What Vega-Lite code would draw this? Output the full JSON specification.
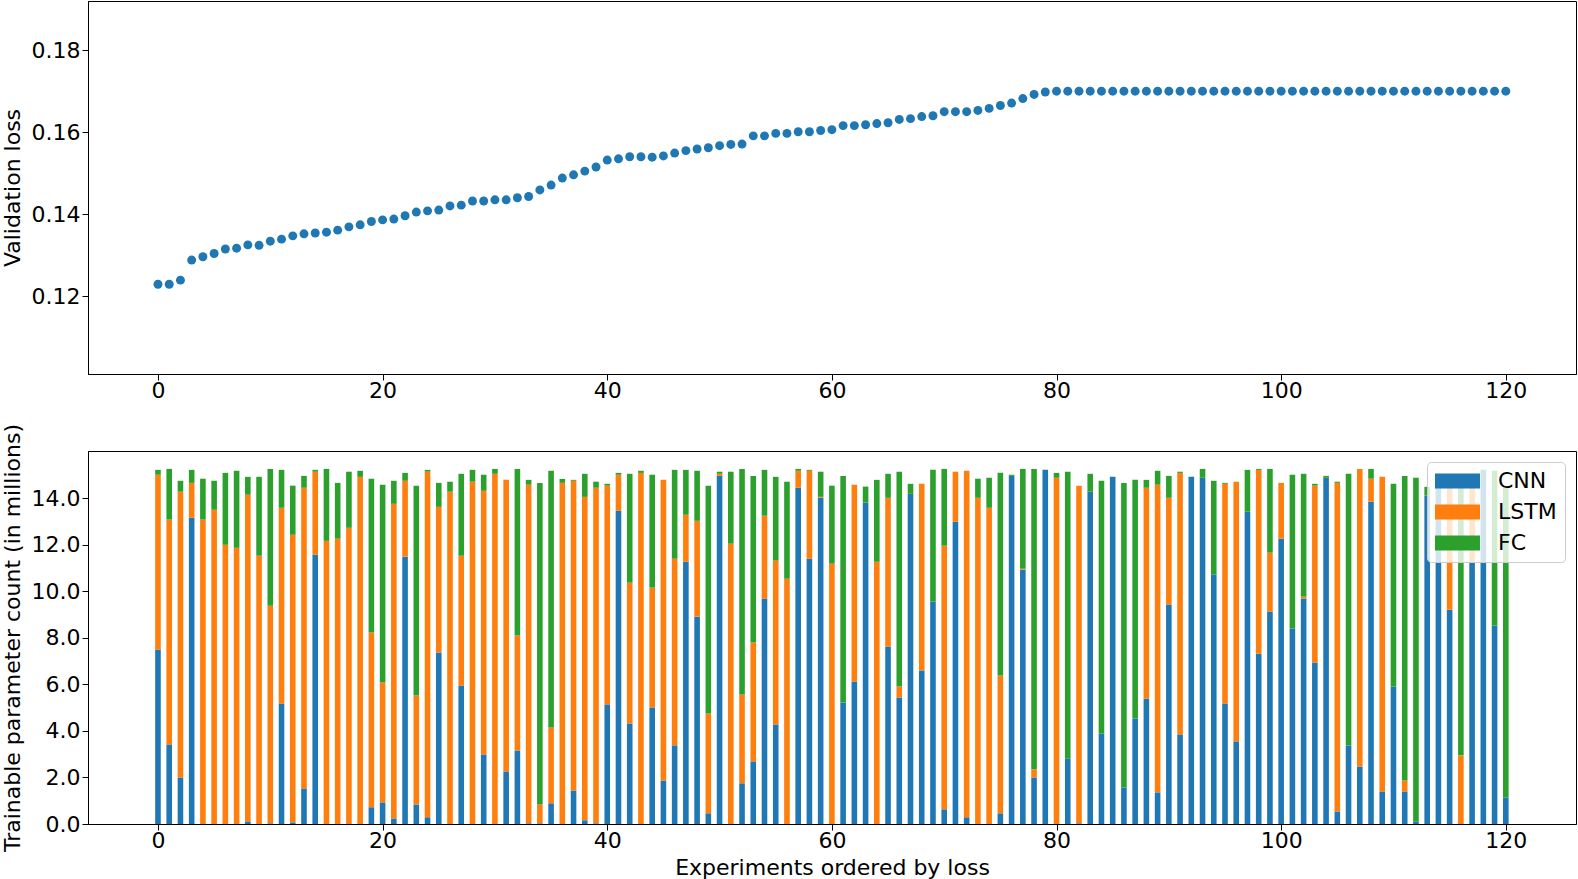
{
  "$schema": "https://vega.github.io/schema/vega-lite/v6.json",
  "description": "Validation loss per experiment (top) and trainable parameter count by layer type (bottom), experiments ordered by loss",
  "padding": {"left": 0, "top": 0, "right": 0, "bottom": 0},
  "background": "white",
  "datasets": {
    "exp": [
      {"i": 0, "loss": 0.1229, "CNN": 7.50, "LSTM": 7.51, "FC": 0.21},
      {"i": 1, "loss": 0.1229, "CNN": 3.42, "LSTM": 9.66, "FC": 2.18},
      {"i": 2, "loss": 0.1239, "CNN": 2.00, "LSTM": 12.28, "FC": 0.47},
      {"i": 3, "loss": 0.1288, "CNN": 13.16, "LSTM": 1.50, "FC": 0.56},
      {"i": 4, "loss": 0.1296, "CNN": 0, "LSTM": 13.08, "FC": 1.76},
      {"i": 5, "loss": 0.1304, "CNN": 0, "LSTM": 13.51, "FC": 1.24},
      {"i": 6, "loss": 0.1315, "CNN": 0, "LSTM": 12.00, "FC": 3.09},
      {"i": 7, "loss": 0.1317, "CNN": 0, "LSTM": 11.87, "FC": 3.31},
      {"i": 8, "loss": 0.1325, "CNN": 0.11, "LSTM": 14.04, "FC": 0.77},
      {"i": 9, "loss": 0.1324, "CNN": 0, "LSTM": 11.53, "FC": 3.39},
      {"i": 10, "loss": 0.1334, "CNN": 0.03, "LSTM": 9.35, "FC": 5.88},
      {"i": 11, "loss": 0.1339, "CNN": 5.18, "LSTM": 8.41, "FC": 1.63},
      {"i": 12, "loss": 0.1347, "CNN": 0.07, "LSTM": 12.36, "FC": 2.11},
      {"i": 13, "loss": 0.1352, "CNN": 1.53, "LSTM": 12.92, "FC": 0.51},
      {"i": 14, "loss": 0.1354, "CNN": 11.57, "LSTM": 3.57, "FC": 0.08},
      {"i": 15, "loss": 0.1356, "CNN": 0, "LSTM": 12.17, "FC": 3.09},
      {"i": 16, "loss": 0.1361, "CNN": 0, "LSTM": 12.26, "FC": 2.40},
      {"i": 17, "loss": 0.1369, "CNN": 0, "LSTM": 12.73, "FC": 2.41},
      {"i": 18, "loss": 0.1374, "CNN": 0, "LSTM": 14.92, "FC": 0.26},
      {"i": 19, "loss": 0.1382, "CNN": 0.72, "LSTM": 7.51, "FC": 6.61},
      {"i": 20, "loss": 0.1386, "CNN": 0.93, "LSTM": 5.15, "FC": 8.50},
      {"i": 21, "loss": 0.1388, "CNN": 0.24, "LSTM": 13.52, "FC": 0.99},
      {"i": 22, "loss": 0.1396, "CNN": 11.49, "LSTM": 3.26, "FC": 0.34},
      {"i": 23, "loss": 0.1405, "CNN": 0.84, "LSTM": 4.68, "FC": 9.02},
      {"i": 24, "loss": 0.1408, "CNN": 0.29, "LSTM": 14.85, "FC": 0.08},
      {"i": 25, "loss": 0.1410, "CNN": 7.37, "LSTM": 6.26, "FC": 1.03},
      {"i": 26, "loss": 0.1420, "CNN": 0, "LSTM": 14.28, "FC": 0.43},
      {"i": 27, "loss": 0.1422, "CNN": 5.95, "LSTM": 5.58, "FC": 3.52},
      {"i": 28, "loss": 0.1432, "CNN": 0, "LSTM": 14.71, "FC": 0.51},
      {"i": 29, "loss": 0.1432, "CNN": 2.99, "LSTM": 11.33, "FC": 0.69},
      {"i": 30, "loss": 0.1435, "CNN": 0, "LSTM": 15.05, "FC": 0.21},
      {"i": 31, "loss": 0.1435, "CNN": 2.26, "LSTM": 12.53, "FC": 0},
      {"i": 32, "loss": 0.1440, "CNN": 3.16, "LSTM": 4.94, "FC": 7.16},
      {"i": 33, "loss": 0.1443, "CNN": 0.03, "LSTM": 14.55, "FC": 0.21},
      {"i": 34, "loss": 0.1459, "CNN": 0.03, "LSTM": 0.81, "FC": 13.82},
      {"i": 35, "loss": 0.1471, "CNN": 0.89, "LSTM": 3.26, "FC": 11.03},
      {"i": 36, "loss": 0.1488, "CNN": 0, "LSTM": 14.66, "FC": 0.17},
      {"i": 37, "loss": 0.1496, "CNN": 1.44, "LSTM": 13.31, "FC": 0.04},
      {"i": 38, "loss": 0.1505, "CNN": 0.16, "LSTM": 13.90, "FC": 0.99},
      {"i": 39, "loss": 0.1515, "CNN": 0.03, "LSTM": 14.42, "FC": 0.26},
      {"i": 40, "loss": 0.1532, "CNN": 5.14, "LSTM": 9.40, "FC": 0.08},
      {"i": 41, "loss": 0.1535, "CNN": 13.46, "LSTM": 1.55, "FC": 0.08},
      {"i": 42, "loss": 0.1540, "CNN": 4.32, "LSTM": 6.05, "FC": 4.68},
      {"i": 43, "loss": 0.1540, "CNN": 0, "LSTM": 15.09, "FC": 0.09},
      {"i": 44, "loss": 0.1539, "CNN": 5.01, "LSTM": 5.15, "FC": 4.85},
      {"i": 45, "loss": 0.1542, "CNN": 1.87, "LSTM": 12.92, "FC": 0},
      {"i": 46, "loss": 0.1549, "CNN": 3.38, "LSTM": 8.02, "FC": 3.82},
      {"i": 47, "loss": 0.1555, "CNN": 11.27, "LSTM": 2.02, "FC": 1.93},
      {"i": 48, "loss": 0.1559, "CNN": 8.91, "LSTM": 4.12, "FC": 2.15},
      {"i": 49, "loss": 0.1562, "CNN": 0.46, "LSTM": 4.29, "FC": 9.79},
      {"i": 50, "loss": 0.1567, "CNN": 14.96, "LSTM": 0.09, "FC": 0.09},
      {"i": 51, "loss": 0.1570, "CNN": 0, "LSTM": 12.05, "FC": 3.09},
      {"i": 52, "loss": 0.1571, "CNN": 1.75, "LSTM": 3.82, "FC": 9.69},
      {"i": 53, "loss": 0.1591, "CNN": 2.69, "LSTM": 5.11, "FC": 7.16},
      {"i": 54, "loss": 0.1591, "CNN": 9.69, "LSTM": 3.56, "FC": 1.97},
      {"i": 55, "loss": 0.1597, "CNN": 4.28, "LSTM": 7.04, "FC": 3.60},
      {"i": 56, "loss": 0.1597, "CNN": 0, "LSTM": 10.54, "FC": 4.17},
      {"i": 57, "loss": 0.1601, "CNN": 14.45, "LSTM": 0.73, "FC": 0.08},
      {"i": 58, "loss": 0.1601, "CNN": 11.40, "LSTM": 3.78, "FC": 0.04},
      {"i": 59, "loss": 0.1604, "CNN": 14.02, "LSTM": 0.04, "FC": 1.08},
      {"i": 60, "loss": 0.1606, "CNN": 0, "LSTM": 11.19, "FC": 3.35},
      {"i": 61, "loss": 0.1616, "CNN": 5.22, "LSTM": 0, "FC": 9.74},
      {"i": 62, "loss": 0.1616, "CNN": 6.12, "LSTM": 8.46, "FC": 0},
      {"i": 63, "loss": 0.1618, "CNN": 13.81, "LSTM": 0, "FC": 0.69},
      {"i": 64, "loss": 0.1621, "CNN": 0, "LSTM": 11.27, "FC": 3.52},
      {"i": 65, "loss": 0.1623, "CNN": 7.63, "LSTM": 6.39, "FC": 1.03},
      {"i": 66, "loss": 0.1631, "CNN": 5.44, "LSTM": 0.47, "FC": 9.23},
      {"i": 67, "loss": 0.1633, "CNN": 14.19, "LSTM": 0, "FC": 0.43},
      {"i": 68, "loss": 0.1638, "CNN": 6.60, "LSTM": 8.02, "FC": 0},
      {"i": 69, "loss": 0.1640, "CNN": 9.56, "LSTM": 0, "FC": 5.66},
      {"i": 70, "loss": 0.1650, "CNN": 0.63, "LSTM": 11.33, "FC": 3.30},
      {"i": 71, "loss": 0.1650, "CNN": 12.99, "LSTM": 2.15, "FC": 0},
      {"i": 72, "loss": 0.1650, "CNN": 0.29, "LSTM": 14.89, "FC": 0},
      {"i": 73, "loss": 0.1653, "CNN": 0, "LSTM": 14.02, "FC": 0.82},
      {"i": 74, "loss": 0.1658, "CNN": 0, "LSTM": 13.59, "FC": 1.29},
      {"i": 75, "loss": 0.1665, "CNN": 0.46, "LSTM": 5.92, "FC": 8.71},
      {"i": 76, "loss": 0.1671, "CNN": 14.96, "LSTM": 0, "FC": 0.05},
      {"i": 77, "loss": 0.1682, "CNN": 10.93, "LSTM": 0.04, "FC": 4.29},
      {"i": 78, "loss": 0.1692, "CNN": 2.00, "LSTM": 0.35, "FC": 12.91},
      {"i": 79, "loss": 0.1698, "CNN": 15.22, "LSTM": 0, "FC": 0},
      {"i": 80, "loss": 0.1700, "CNN": 0, "LSTM": 14.88, "FC": 0.21},
      {"i": 81, "loss": 0.1700, "CNN": 2.82, "LSTM": 0, "FC": 12.32},
      {"i": 82, "loss": 0.1700, "CNN": 0.03, "LSTM": 14.51, "FC": 0},
      {"i": 83, "loss": 0.1700, "CNN": 14.28, "LSTM": 0, "FC": 0.77},
      {"i": 84, "loss": 0.1700, "CNN": 3.89, "LSTM": 0, "FC": 10.86},
      {"i": 85, "loss": 0.1700, "CNN": 14.92, "LSTM": 0, "FC": 0},
      {"i": 86, "loss": 0.1700, "CNN": 1.57, "LSTM": 0, "FC": 13.09},
      {"i": 87, "loss": 0.1700, "CNN": 4.54, "LSTM": 0, "FC": 10.25},
      {"i": 88, "loss": 0.1700, "CNN": 5.39, "LSTM": 9.06, "FC": 0.34},
      {"i": 89, "loss": 0.1700, "CNN": 1.36, "LSTM": 13.22, "FC": 0.60},
      {"i": 90, "loss": 0.1700, "CNN": 9.43, "LSTM": 4.59, "FC": 0.94},
      {"i": 91, "loss": 0.1700, "CNN": 3.85, "LSTM": 11.24, "FC": 0.05},
      {"i": 92, "loss": 0.1700, "CNN": 14.92, "LSTM": 0, "FC": 0},
      {"i": 93, "loss": 0.1700, "CNN": 14.88, "LSTM": 0, "FC": 0.38},
      {"i": 94, "loss": 0.1700, "CNN": 10.72, "LSTM": 0, "FC": 4.03},
      {"i": 95, "loss": 0.1700, "CNN": 5.18, "LSTM": 9.44, "FC": 0.04},
      {"i": 96, "loss": 0.1700, "CNN": 3.55, "LSTM": 11.16, "FC": 0},
      {"i": 97, "loss": 0.1700, "CNN": 13.42, "LSTM": 0, "FC": 1.80},
      {"i": 98, "loss": 0.1700, "CNN": 7.32, "LSTM": 7.90, "FC": 0.04},
      {"i": 99, "loss": 0.1700, "CNN": 9.13, "LSTM": 2.53, "FC": 3.60},
      {"i": 100, "loss": 0.1700, "CNN": 12.26, "LSTM": 2.40, "FC": 0},
      {"i": 101, "loss": 0.1700, "CNN": 8.40, "LSTM": 0, "FC": 6.61},
      {"i": 102, "loss": 0.1700, "CNN": 9.69, "LSTM": 0.08, "FC": 5.28},
      {"i": 103, "loss": 0.1700, "CNN": 6.94, "LSTM": 7.60, "FC": 0.08},
      {"i": 104, "loss": 0.1700, "CNN": 14.88, "LSTM": 0, "FC": 0.08},
      {"i": 105, "loss": 0.1700, "CNN": 0.54, "LSTM": 14.12, "FC": 0.05},
      {"i": 106, "loss": 0.1700, "CNN": 3.38, "LSTM": 0, "FC": 11.67},
      {"i": 107, "loss": 0.1700, "CNN": 2.47, "LSTM": 12.79, "FC": 0},
      {"i": 108, "loss": 0.1700, "CNN": 13.85, "LSTM": 0.99, "FC": 0.42},
      {"i": 109, "loss": 0.1700, "CNN": 1.40, "LSTM": 13.52, "FC": 0},
      {"i": 110, "loss": 0.1700, "CNN": 5.91, "LSTM": 0, "FC": 8.71},
      {"i": 111, "loss": 0.1700, "CNN": 1.40, "LSTM": 0.47, "FC": 13.09},
      {"i": 112, "loss": 0.1700, "CNN": 0.11, "LSTM": 0, "FC": 14.77},
      {"i": 113, "loss": 0.1700, "CNN": 14.11, "LSTM": 0, "FC": 0.38},
      {"i": 114, "loss": 0.1700, "CNN": 14.49, "LSTM": 0, "FC": 0},
      {"i": 115, "loss": 0.1700, "CNN": 9.21, "LSTM": 5.28, "FC": 0},
      {"i": 116, "loss": 0.1700, "CNN": 0, "LSTM": 2.95, "FC": 11.54},
      {"i": 117, "loss": 0.1700, "CNN": 11.28, "LSTM": 3.21, "FC": 0},
      {"i": 118, "loss": 0.1700, "CNN": 15.22, "LSTM": 0, "FC": 0},
      {"i": 119, "loss": 0.1700, "CNN": 8.53, "LSTM": 0, "FC": 6.65},
      {"i": 120, "loss": 0.1700, "CNN": 1.14, "LSTM": 0, "FC": 13.35}
    ]
  },
  "vconcat": [
    {
      "width": 1488,
      "height": 373,
      "layer": [
        {
          "data": {"name": "exp"},
          "mark": {"type": "point", "filled": true, "opacity": 1, "size": 80, "color": "#1f77b4"},
          "encoding": {
            "x": {
              "field": "i",
              "type": "quantitative",
              "scale": {"domain": [-6.23, 126.25], "nice": false, "zero": false, "padding": 0},
              "axis": {"title": null, "values": [0, 20, 40, 60, 80, 100, 120], "labelPadding": 0}
            },
            "y": {
              "field": "loss",
              "type": "quantitative",
              "scale": {"domain": [0.101, 0.192], "nice": false, "zero": false},
              "axis": {"title": "Validation loss", "values": [0.12, 0.14, 0.16, 0.18], "format": ".2f", "titlePadding": 7}
            }
          }
        },
        {
          "mark": {"type": "rule", "color": "#1f77b4", "strokeWidth": 1.2},
          "encoding": {"x": {"datum": 79.5, "type": "quantitative"}}
        }
      ]
    },
    {
      "width": 1488,
      "height": 373,
      "layer": [
        {
          "data": {"name": "exp"},
          "transform": [
            {"fold": ["CNN", "LSTM", "FC"], "as": ["layer", "params"]},
            {"calculate": "indexof(['CNN', 'LSTM', 'FC'], datum.layer)", "as": "stackOrder"}
          ],
          "mark": {"type": "bar", "size": 5.6},
          "encoding": {
            "x": {
              "field": "i",
              "type": "quantitative",
              "scale": {"domain": [-6.23, 126.25], "nice": false, "zero": false, "padding": 0},
              "axis": {"title": "Experiments ordered by loss", "values": [0, 20, 40, 60, 80, 100, 120], "labelPadding": 0, "titlePadding": 6}
            },
            "y": {
              "field": "params",
              "type": "quantitative",
              "stack": "zero",
              "scale": {"domain": [0, 16.03], "nice": false},
              "axis": {"title": "Trainable parameter count (in millions)", "values": [0, 2, 4, 6, 8, 10, 12, 14], "format": ".1f", "titlePadding": 7}
            },
            "order": {"field": "stackOrder", "type": "quantitative", "sort": "ascending"},
            "color": {
              "field": "layer",
              "type": "nominal",
              "sort": ["CNN", "LSTM", "FC"],
              "scale": {"domain": ["CNN", "LSTM", "FC"], "range": ["#1f77b4", "#ff7f0e", "#2ca02c"]},
              "legend": {
                "title": null,
                "orient": "top-right",
                "offset": 11,
                "padding": 8,
                "fillColor": "rgba(255,255,255,0.8)",
                "strokeColor": "#cccccc",
                "cornerRadius": 4,
                "symbolType": "M-1,-0.68H3.09V0.68H-1Z",
                "symbolSize": 484,
                "symbolStrokeWidth": 0,
                "symbolOpacity": 1,
                "labelFontSize": 22,
                "labelFont": "DejaVu Sans",
                "labelColor": "black",
                "labelOffset": 41,
                "rowPadding": 9
              }
            }
          }
        },
        {
          "mark": {"type": "rule", "color": "#1f77b4", "strokeWidth": 1.2},
          "encoding": {"x": {"datum": 79.5, "type": "quantitative"}}
        }
      ]
    }
  ],
  "spacing": 77,
  "bounds": "flush",
  "resolve": {"scale": {"color": "independent"}, "legend": {"color": "independent"}},
  "config": {
    "font": "DejaVu Sans",
    "view": {"stroke": "black", "strokeWidth": 1},
    "axis": {
      "grid": false,
      "labelFont": "DejaVu Sans",
      "labelFontSize": 22,
      "labelColor": "black",
      "labelPadding": 2,
      "labelFlush": false,
      "titleFont": "DejaVu Sans",
      "titleFontSize": 22,
      "titleFontWeight": "normal",
      "titleColor": "black",
      "tickColor": "black",
      "tickSize": 6,
      "domainColor": "black"
    }
  }
}
